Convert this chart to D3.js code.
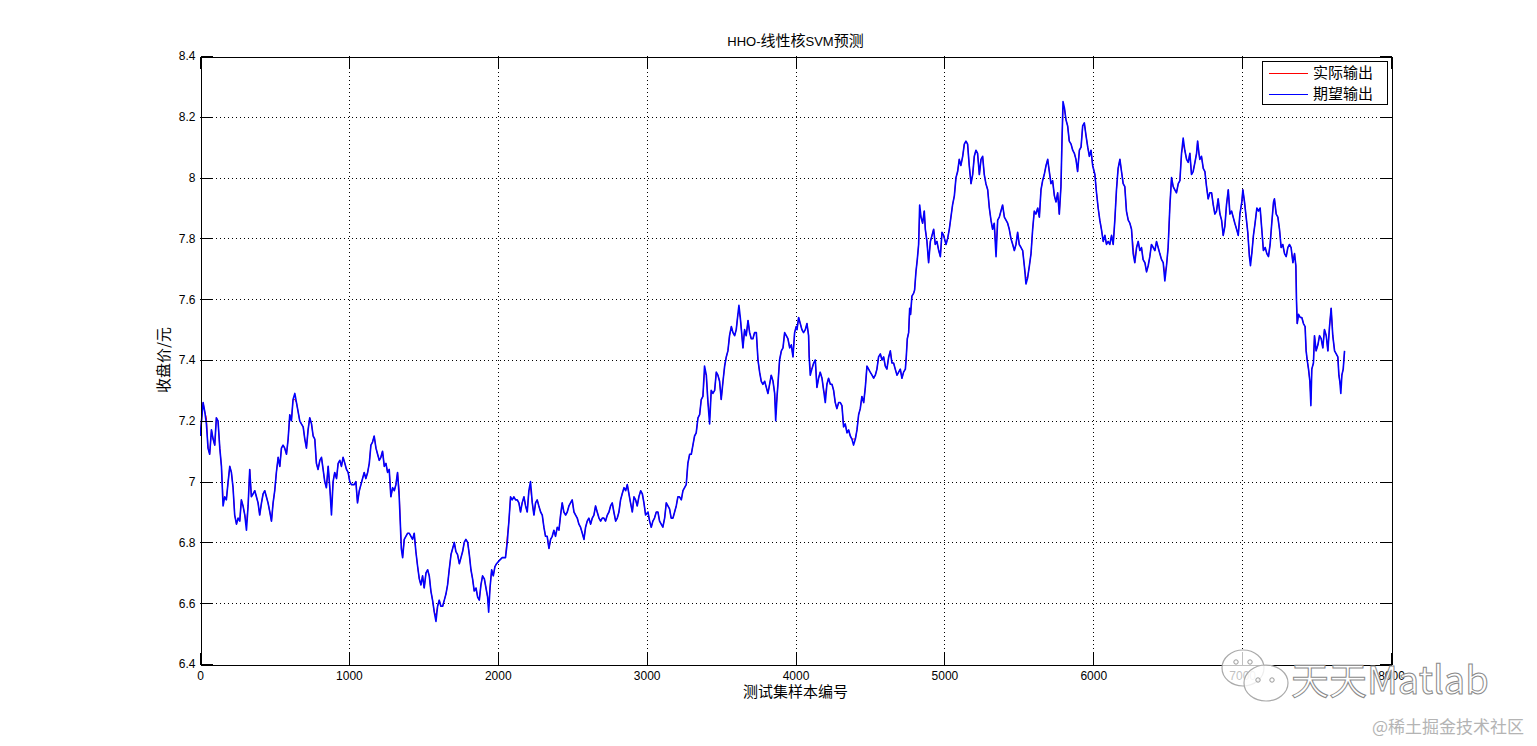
<!DOCTYPE html>
<html><head><meta charset="utf-8">
<script src="https://cdn.jsdelivr.net/npm/d3@7"></script>
<style>body{margin:0;background:#fff;} svg{display:block;}</style>
</head><body>
<svg id="chart" width="1537" height="746"></svg>
<script>
const titleParts = [["HHO-", "lat"], ["线性核", "cjk"], ["SVM", "lat"], ["预测", "cjk"]];
const xLabel = "测试集样本编号";
const yLabel = "收盘价/元";
const seriesNames = ["实际输出", "期望输出"];
const xTicks = [0, 1000, 2000, 3000, 4000, 5000, 6000, 7000, 8000];
const yTicks = [6.4, 6.6, 6.8, 7.0, 7.2, 7.4, 7.6, 7.8, 8.0, 8.2, 8.4];
const yTickLabels = ["6.4", "6.6", "6.8", "7", "7.2", "7.4", "7.6", "7.8", "8", "8.2", "8.4"];

// expected output (期望输出): [sample number, closing price]
const expectedOut = [
[1,7.15],[21,7.26],[32,7.23],[43,7.19],[54,7.11],[65,7.09],[77,7.17],[88,7.14],[99,7.12],[110,7.21],[121,7.20],[133,7.11],[144,7.05],[155,6.92],[166,6.95],[177,6.94],[189,7.00],[200,7.05],[211,7.03],[222,6.98],[233,6.89],[245,6.86],[256,6.88],[267,6.87],[278,6.94],[289,6.92],[301,6.89],[312,6.84],[323,6.92],[334,7.04],[345,6.95],[357,6.96],[368,6.97],[379,6.95],[390,6.93],[401,6.89],[413,6.93],[424,6.96],[435,6.97],[446,6.95],[457,6.93],[469,6.90],[480,6.87],[491,6.93],[502,6.97],[513,7.03],[525,7.08],[536,7.05],[547,7.11],[558,7.12],[569,7.11],[581,7.09],[592,7.14],[603,7.22],[614,7.20],[625,7.27],[637,7.29],[648,7.26],[659,7.23],[670,7.20],[681,7.19],[693,7.18],[704,7.14],[715,7.11],[726,7.17],[737,7.21],[749,7.19],[760,7.15],[771,7.14],[782,7.06],[793,7.04],[805,7.07],[816,7.08],[827,7.04],[838,7.00],[849,6.98],[861,7.05],[872,6.98],[883,6.89],[894,7.00],[905,7.03],[917,7.01],[928,7.06],[939,7.07],[950,7.05],[961,7.08],[973,7.06],[984,7.04],[995,7.03],[1006,7.00],[1017,6.99],
[1036,6.99],[1047,7.00],[1058,6.93],[1070,6.97],[1081,6.99],[1092,7.01],[1103,7.03],[1114,7.01],[1126,7.03],[1137,7.06],[1148,7.12],[1159,7.13],[1170,7.15],[1182,7.11],[1193,7.09],[1204,7.07],[1215,7.08],[1226,7.10],[1238,7.05],[1249,7.06],[1260,7.03],[1271,7.04],[1282,6.95],[1294,6.98],[1305,6.97],[1316,6.99],[1327,7.03],[1338,6.95],[1345,6.87],[1352,6.78],[1361,6.75],[1372,6.81],[1383,6.82],[1394,6.83],[1406,6.83],[1417,6.82],[1428,6.81],[1439,6.83],[1450,6.77],[1462,6.72],[1473,6.68],[1484,6.66],[1495,6.69],[1506,6.65],[1518,6.70],[1529,6.71],[1540,6.69],[1551,6.64],[1562,6.61],[1574,6.57],[1585,6.54],[1596,6.59],[1607,6.61],[1618,6.59],[1630,6.59],[1641,6.61],[1652,6.63],[1663,6.66],[1674,6.71],[1686,6.76],[1697,6.78],[1708,6.80],[1719,6.77],[1730,6.76],[1742,6.73],[1753,6.75],[1764,6.77],[1775,6.80],[1786,6.81],[1798,6.80],[1809,6.76],[1820,6.71],[1831,6.68],[1842,6.64],[1854,6.65],[1865,6.62],[1876,6.61],[1887,6.66],[1898,6.69],[1910,6.68],[1921,6.65],[1932,6.62],[1939,6.57],[1948,6.65],[1959,6.71],[1970,6.69],[1981,6.72],[1992,6.73],[2010,6.74],
[2030,6.75],[2052,6.75],[2064,6.80],[2075,6.87],[2086,6.95],[2097,6.94],[2108,6.95],[2120,6.94],[2131,6.94],[2142,6.93],[2153,6.90],[2164,6.93],[2176,6.95],[2187,6.92],[2198,6.90],[2209,6.97],[2220,7.00],[2232,6.93],[2243,6.89],[2254,6.93],[2265,6.94],[2276,6.92],[2288,6.90],[2299,6.89],[2310,6.85],[2321,6.82],[2332,6.82],[2344,6.78],[2355,6.81],[2366,6.82],[2377,6.84],[2388,6.82],[2400,6.85],[2411,6.84],[2422,6.89],[2433,6.93],[2444,6.90],[2456,6.89],[2467,6.90],[2478,6.92],[2489,6.93],[2500,6.94],[2512,6.90],[2523,6.89],[2534,6.88],[2545,6.86],[2556,6.85],[2568,6.83],[2579,6.81],[2590,6.85],[2601,6.87],[2612,6.88],[2624,6.86],[2635,6.88],[2646,6.89],[2657,6.92],[2668,6.90],[2680,6.88],[2691,6.87],[2702,6.88],[2713,6.88],[2724,6.87],[2736,6.89],[2747,6.90],[2758,6.92],[2769,6.93],[2780,6.90],[2792,6.87],[2803,6.88],[2814,6.90],[2825,6.94],[2836,6.96],[2848,6.98],[2859,6.97],[2870,6.99],[2881,6.96],[2892,6.93],[2904,6.90],[2915,6.95],[2926,6.94],[2937,6.92],[2948,6.95],[2960,6.97],[2971,6.96],[2982,6.93],[2993,6.89],
[3009,6.90],[3020,6.87],[3031,6.85],[3042,6.87],[3053,6.88],[3065,6.90],[3076,6.90],[3087,6.87],[3098,6.86],[3109,6.85],[3121,6.88],[3132,6.93],[3143,6.92],[3154,6.91],[3165,6.88],[3177,6.88],[3188,6.90],[3199,6.92],[3210,6.95],[3221,6.95],[3233,6.94],[3244,6.97],[3255,6.98],[3266,6.99],[3277,7.06],[3289,7.09],[3300,7.09],[3311,7.12],[3322,7.15],[3333,7.16],[3345,7.21],[3356,7.22],[3367,7.27],[3378,7.28],[3389,7.38],[3401,7.35],[3412,7.26],[3423,7.19],[3434,7.30],[3445,7.29],[3457,7.30],[3468,7.36],[3479,7.35],[3490,7.33],[3501,7.27],[3513,7.33],[3524,7.38],[3535,7.41],[3546,7.43],[3557,7.48],[3569,7.51],[3580,7.49],[3591,7.48],[3602,7.50],[3613,7.55],[3620,7.58],[3629,7.54],[3640,7.48],[3647,7.44],[3658,7.50],[3669,7.48],[3681,7.53],[3692,7.49],[3703,7.47],[3714,7.47],[3725,7.49],[3737,7.49],[3748,7.40],[3759,7.36],[3770,7.33],[3781,7.32],[3793,7.33],[3804,7.31],[3815,7.29],[3826,7.32],[3837,7.35],[3849,7.33],[3860,7.29],[3867,7.20],[3876,7.28],[3882,7.32],[3893,7.40],[3905,7.43],[3916,7.44],[3927,7.49],[3938,7.48],[3949,7.47],[3961,7.44],[3972,7.45],[3983,7.41],[3994,7.49],[4005,7.51],
[4010,7.50],[4021,7.54],[4032,7.52],[4043,7.50],[4054,7.49],[4066,7.50],[4077,7.52],[4088,7.48],[4092,7.41],[4099,7.35],[4110,7.37],[4122,7.39],[4133,7.40],[4144,7.31],[4155,7.34],[4166,7.36],[4178,7.34],[4189,7.30],[4200,7.26],[4211,7.32],[4222,7.34],[4234,7.32],[4245,7.32],[4256,7.30],[4267,7.26],[4278,7.24],[4290,7.26],[4301,7.26],[4312,7.25],[4323,7.18],[4334,7.19],[4346,7.16],[4357,7.17],[4368,7.15],[4379,7.14],[4390,7.12],[4402,7.14],[4413,7.17],[4424,7.22],[4435,7.24],[4446,7.28],[4458,7.26],[4469,7.31],[4480,7.38],[4491,7.37],[4502,7.36],[4514,7.35],[4525,7.34],[4536,7.35],[4547,7.37],[4558,7.41],[4570,7.42],[4581,7.40],[4592,7.41],[4603,7.38],[4614,7.37],[4626,7.41],[4637,7.43],[4648,7.39],[4659,7.39],[4670,7.37],[4682,7.35],[4693,7.36],[4704,7.37],[4715,7.34],[4726,7.36],[4738,7.37],[4744,7.41],[4751,7.47],[4760,7.49],[4767,7.57],[4773,7.55],[4782,7.61],[4794,7.62],[4800,7.63],[4809,7.69],[4818,7.73],[4827,7.78],[4834,7.91],[4843,7.87],[4854,7.85],[4865,7.89],[4872,7.83],[4883,7.79],[4894,7.72],[4906,7.79],[4917,7.81],[4928,7.83],[4939,7.78],[4950,7.79],[4962,7.76],[4973,7.74],[4984,7.82],[4995,7.81],
[5011,7.78],[5022,7.80],[5033,7.83],[5044,7.87],[5055,7.91],[5067,7.94],[5078,8.00],[5089,8.02],[5100,8.06],[5111,8.04],[5123,8.07],[5134,8.11],[5145,8.12],[5156,8.11],[5167,8.04],[5179,7.98],[5190,8.01],[5201,8.07],[5212,8.09],[5223,8.08],[5235,8.01],[5246,8.06],[5257,8.07],[5268,8.01],[5279,7.98],[5291,7.96],[5302,7.90],[5313,7.86],[5324,7.83],[5335,7.85],[5347,7.74],[5358,7.86],[5369,7.87],[5380,7.89],[5391,7.91],[5403,7.87],[5414,7.86],[5425,7.85],[5436,7.83],[5447,7.80],[5459,7.78],[5470,7.76],[5481,7.78],[5492,7.82],[5503,7.78],[5515,7.77],[5526,7.76],[5537,7.71],[5548,7.65],[5559,7.67],[5571,7.71],[5582,7.75],[5593,7.83],[5604,7.89],[5615,7.88],[5627,7.90],[5638,7.87],[5649,7.96],[5660,7.99],[5671,8.01],[5683,8.04],[5694,8.06],[5705,8.02],[5716,7.98],[5727,7.99],[5739,7.94],[5750,7.92],[5761,7.95],[5772,7.88],[5783,7.97],[5790,8.12],[5797,8.25],[5806,8.23],[5817,8.19],[5828,8.17],[5839,8.12],[5851,8.11],[5862,8.09],[5873,8.08],[5884,8.06],[5895,8.02],[5907,8.09],[5918,8.10],[5929,8.17],[5940,8.18],[5951,8.14],[5963,8.10],[5974,8.07],[5985,8.09],[5996,8.04],
[6011,8.01],[6022,7.95],[6033,7.90],[6044,7.86],[6055,7.83],[6067,7.79],[6078,7.81],[6089,7.78],[6100,7.79],[6111,7.78],[6123,7.81],[6134,7.78],[6145,7.86],[6156,7.96],[6167,8.03],[6179,8.06],[6190,8.02],[6201,7.98],[6212,7.97],[6223,7.89],[6235,7.86],[6246,7.85],[6257,7.83],[6268,7.75],[6279,7.72],[6291,7.77],[6302,7.79],[6313,7.76],[6324,7.77],[6335,7.73],[6347,7.72],[6358,7.69],[6369,7.71],[6380,7.74],[6391,7.78],[6403,7.77],[6414,7.76],[6425,7.79],[6436,7.77],[6447,7.75],[6459,7.73],[6470,7.72],[6481,7.66],[6492,7.71],[6503,7.77],[6515,7.91],[6526,8.00],[6537,7.97],[6548,7.96],[6559,7.95],[6571,7.98],[6582,7.99],[6593,8.08],[6604,8.13],[6615,8.09],[6627,8.06],[6638,8.05],[6649,8.08],[6660,8.01],[6671,8.02],[6683,8.05],[6694,8.08],[6701,8.12],[6710,8.08],[6716,8.06],[6727,8.07],[6739,8.03],[6750,8.02],[6761,7.97],[6772,7.93],[6783,7.95],[6795,7.95],[6806,7.91],[6817,7.88],[6828,7.89],[6839,7.93],[6851,7.88],[6862,7.86],[6873,7.81],[6884,7.84],[6895,7.91],[6907,7.96],[6918,7.88],[6929,7.89],[6940,7.87],[6951,7.85],[6963,7.83],[6974,7.81],[6985,7.88],
[6998,7.92],[7005,7.96],[7016,7.92],[7027,7.87],[7038,7.82],[7049,7.74],[7056,7.71],[7065,7.75],[7076,7.81],[7087,7.85],[7099,7.90],[7110,7.89],[7121,7.90],[7132,7.83],[7143,7.76],[7155,7.77],[7166,7.75],[7177,7.74],[7188,7.78],[7199,7.85],[7211,7.92],[7217,7.93],[7229,7.88],[7240,7.87],[7251,7.83],[7262,7.77],[7273,7.78],[7285,7.75],[7296,7.74],[7307,7.77],[7318,7.78],[7329,7.77],[7341,7.72],[7352,7.75],[7361,7.71],[7365,7.60],[7370,7.52],[7379,7.55],[7390,7.54],[7401,7.54],[7412,7.52],[7423,7.51],[7430,7.43],[7437,7.40],[7446,7.37],[7455,7.33],[7462,7.25],[7468,7.37],[7479,7.39],[7486,7.48],[7497,7.43],[7509,7.45],[7520,7.48],[7531,7.47],[7542,7.44],[7553,7.50],[7565,7.48],[7576,7.43],[7587,7.51],[7598,7.57],[7609,7.48],[7621,7.43],[7632,7.42],[7643,7.41],[7650,7.35],[7656,7.33],[7663,7.29],[7670,7.35],[7679,7.37],[7688,7.43]
];

// actual output (实际输出): sample points where it visibly departs from the expected line
const actualOverrides = [
[43,7.21],[155,6.94],[312,6.86],[637,7.27],[883,6.91],[1338,6.97],[1352,6.80],[1585,6.56],[1939,6.59],[2064,6.82],[2220,6.98],
[3389,7.36],[3423,7.21],[3620,7.56],[3867,7.22],[4099,7.37],[4200,7.28],[4390,7.14],[4834,7.89],[5347,7.76],[5548,7.67],
[5797,8.23],[6268,7.77],[6481,7.68],[6604,8.11],[7056,7.73],[7462,7.27],[7663,7.31]
];

const overrideMap = new Map(actualOverrides);
const actualOut = expectedOut.map(([i, v]) => [i, overrideMap.has(i) ? overrideMap.get(i) : v]);

const W = 1537, H = 746;
const L = 200, R = 1391, T = 56, B = 664;
const svg = d3.select("#chart");
const latFont = "'Liberation Sans', Arial, sans-serif";
const cjkFont = "'Noto Sans CJK SC', sans-serif";

const x = d3.scaleLinear().domain([0, 8000]).range([L, R]);
const y = d3.scaleLinear().domain([6.4, 8.4]).range([B, T]);

svg.append("rect").attr("width", W).attr("height", H).attr("fill", "#fff");

// grid
const grid = svg.append("g").attr("stroke", "#000").attr("stroke-width", 1)
  .attr("stroke-dasharray", "1,3").attr("shape-rendering", "crispEdges");
grid.selectAll("line.gx").data(xTicks.slice(1, -1)).join("line")
  .attr("x1", d => Math.round(x(d)) + 0.5).attr("x2", d => Math.round(x(d)) + 0.5)
  .attr("y1", T).attr("y2", B);
grid.selectAll("line.gy").data(yTicks.slice(1, -1)).join("line")
  .attr("x1", L).attr("x2", R)
  .attr("y1", d => Math.round(y(d)) + 0.5).attr("y2", d => Math.round(y(d)) + 0.5);

// series
svg.append("clipPath").attr("id", "clip").append("rect")
  .attr("x", L).attr("y", T).attr("width", R - L).attr("height", B - T);
const line = d3.line().x(d => x(d[0])).y(d => y(d[1]));
const plot = svg.append("g").attr("clip-path", "url(#clip)");
plot.append("path").datum(actualOut).attr("d", line)
  .attr("fill", "none").attr("stroke", "#ff0000").attr("stroke-width", 1.0).attr("stroke-linejoin", "round");
plot.append("path").datum(expectedOut).attr("d", line)
  .attr("fill", "none").attr("stroke", "#0000ff").attr("stroke-width", 1.6).attr("stroke-linejoin", "round");

// axes
function styleAxis(g) {
  g.selectAll("path.domain").attr("stroke", "#000").attr("shape-rendering", "crispEdges");
  g.selectAll(".tick line").attr("stroke", "#000").attr("shape-rendering", "crispEdges");
  g.selectAll(".tick text").attr("fill", "#000").attr("font-family", latFont).attr("font-size", 12);
}
svg.append("g").attr("transform", `translate(0,${B + 0.5})`)
  .call(d3.axisBottom(x).tickValues(xTicks).tickFormat(d3.format("d")).tickSizeInner(-12).tickSizeOuter(0).tickPadding(7))
  .call(styleAxis);
svg.append("g").attr("transform", `translate(0,${T + 0.5})`)
  .call(d3.axisTop(x).tickValues(xTicks).tickFormat("").tickSizeInner(-12).tickSizeOuter(0))
  .call(styleAxis);
svg.append("g").attr("transform", `translate(${L + 0.5},0)`)
  .call(d3.axisLeft(y).tickValues(yTicks).tickFormat((d, i) => yTickLabels[i]).tickSizeInner(-12).tickSizeOuter(0).tickPadding(5))
  .call(styleAxis);
svg.append("g").attr("transform", `translate(${R + 0.5},0)`)
  .call(d3.axisRight(y).tickValues(yTicks).tickFormat("").tickSizeInner(-12).tickSizeOuter(0))
  .call(styleAxis);

// title
const title = svg.append("text").attr("x", (L + R) / 2).attr("y", 46).attr("text-anchor", "middle").attr("fill", "#000");
titleParts.forEach(([t, k]) => {
  title.append("tspan").text(t)
    .attr("font-family", k === "cjk" ? cjkFont : latFont)
    .attr("font-size", k === "cjk" ? 15 : 13);
});

// axis labels
svg.append("text").attr("x", (L + R) / 2).attr("y", 697).attr("text-anchor", "middle")
  .attr("font-family", cjkFont).attr("font-size", 15).attr("fill", "#000").text(xLabel);
svg.append("text").attr("transform", `translate(169,${(T + B) / 2}) rotate(-90)`).attr("text-anchor", "middle")
  .attr("font-family", cjkFont).attr("font-size", 15).attr("fill", "#000").text(yLabel);

// legend
const lg = svg.append("g");
lg.append("rect").attr("x", 1262.5).attr("y", 61.5).attr("width", 125).attr("height", 43)
  .attr("fill", "#fff").attr("stroke", "#000").attr("shape-rendering", "crispEdges");
const legendColors = ["#ff0000", "#0000ff"];
seriesNames.forEach((name, i) => {
  const yy = 73 + i * 21;
  lg.append("line").attr("x1", 1269).attr("x2", 1308).attr("y1", yy + 0.5).attr("y2", yy + 0.5)
    .attr("stroke", legendColors[i]).attr("stroke-width", 1);
  lg.append("text").attr("x", 1313).attr("y", yy).attr("dy", "0.36em")
    .attr("font-family", cjkFont).attr("font-size", 15).attr("fill", "#000").text(name);
});

// watermark
const wm = svg.append("g");
wm.append("ellipse").attr("cx", 1243).attr("cy", 668).attr("rx", 21).attr("ry", 18)
  .attr("fill", "#fff").attr("fill-opacity", 0.75).attr("stroke", "#aaa").attr("stroke-width", 1.2);
wm.append("ellipse").attr("cx", 1266).attr("cy", 683).attr("rx", 22).attr("ry", 18)
  .attr("fill", "#fff").attr("fill-opacity", 0.8).attr("stroke", "#aaa").attr("stroke-width", 1.2);
[[1236, 662], [1250, 662], [1258, 680], [1272, 680]].forEach(([cx, cy]) =>
  wm.append("circle").attr("cx", cx).attr("cy", cy).attr("r", 2.2).attr("fill", "none").attr("stroke", "#999"));
wm.append("text").attr("x", 1291).attr("y", 694).attr("font-family", cjkFont).attr("font-size", 38)
  .attr("fill", "#fff").attr("fill-opacity", 0.85).attr("stroke", "#8a8a8a").attr("stroke-width", 1).text("天天Matlab");
wm.append("text").attr("x", 1372).attr("y", 733).attr("font-family", cjkFont).attr("font-size", 17)
  .attr("fill", "#b4b4b4").text("@稀土掘金技术社区");
</script>
</body></html>
